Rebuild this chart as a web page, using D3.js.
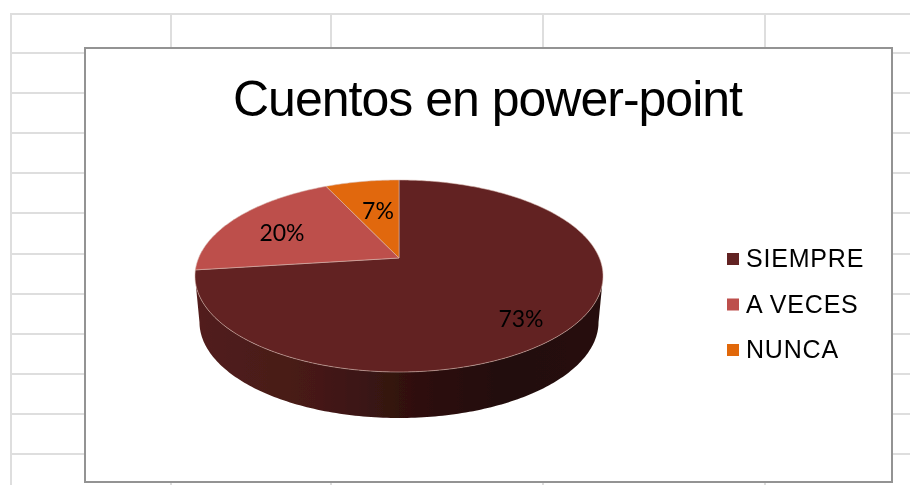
<!DOCTYPE html>
<html>
<head>
<meta charset="utf-8">
<script src="https://cdn.jsdelivr.net/npm/d3@7"></script>
<style>
html, body { margin: 0; padding: 0; background: #fff; overflow: hidden; }
svg { display: block; }
</style>
</head>
<body>
<svg width="910" height="485"></svg>
<script>
var categories = ["SIEMPRE", "A VECES", "NUNCA"];
var values = [73, 20, 7];
var labels = ["73%", "20%", "7%"];
var colors = ["#622323", "#bd4f4c", "#e1680a"];
var sheetRows = [14, 53, 93, 133, 173, 213, 254, 294, 334, 374, 414, 454];
var sheetCols = [11, 171, 331, 543, 765];

var svg = d3.select("svg");
var color = d3.scaleOrdinal().domain(categories).range(colors);

var defs = svg.append("defs");
defs.append("filter").attr("id", "soft")
    .append("feGaussianBlur").attr("stdDeviation", 0.6);
defs.append("filter").attr("id", "softText")
    .append("feGaussianBlur").attr("stdDeviation", 0.4);
var grad = defs.append("linearGradient").attr("id", "side");
[["0%", "#521f1c"], ["30%", "#451917"], ["55%", "#2e100e"], ["75%", "#230c0a"], ["100%", "#260f0c"]]
    .forEach(function(s) {
        grad.append("stop").attr("offset", s[0]).attr("stop-color", s[1]);
    });

// spreadsheet behind the chart
var sheet = svg.append("g").attr("stroke", "#dedede").attr("stroke-width", 2);
sheet.selectAll("line.r").data(sheetRows).enter().append("line").attr("class", "r")
    .attr("x1", 10).attr("x2", 910)
    .attr("y1", function(d) { return d; }).attr("y2", function(d) { return d; });
sheet.selectAll("line.c").data(sheetCols).enter().append("line").attr("class", "c")
    .attr("y1", 14).attr("y2", 485)
    .attr("x1", function(d) { return d; }).attr("x2", function(d) { return d; });

// chart box
svg.append("rect")
    .attr("x", 85).attr("y", 48).attr("width", 807).attr("height", 434)
    .attr("fill", "#fff").attr("stroke", "#939393").attr("stroke-width", 2);

svg.append("text")
    .attr("x", 488).attr("y", 116)
    .attr("text-anchor", "middle")
    .attr("font-family", "Liberation Sans")
    .attr("font-size", 50)
    .attr("fill", "#000")
    .attr("textLength", 510)
    .attr("filter", "url(#softText)")
    .text("Cuentos en power-point");

// perspective tilt: circle (angle a, clockwise from top) onto the page
var cx = 399, cy = 258, R = 200.4, tilt = 0.1875, squash = -44.25;
function project(a, shrink, drop) {
    var u = Math.sin(a), v = Math.cos(a), w = 1 + tilt * v;
    return [cx + shrink * R * u / w, cy + drop + (squash * v) / w + (258 / w - 258)];
}

var pie = d3.pie().sort(null).value(function(d) { return d; });
var arcs = pie(values);
var line = d3.line();

function rim(a0, a1, shrink, drop) {
    var n = Math.max(2, Math.ceil((a1 - a0) * 60));
    return d3.range(n + 1).map(function(i) {
        return project(a0 + (a1 - a0) * i / n, shrink, drop);
    });
}

var chart = svg.append("g").attr("filter", "url(#soft)");

// side wall, only the front half shows
var frontA = Math.PI / 2 + 0.19, frontB = 3 * Math.PI / 2 - 0.19;
var wall = rim(frontA, frontB, 1, 0).concat(rim(frontA, frontB, 0.978, 46).reverse());
chart.append("path")
    .attr("d", line(wall) + "Z")
    .attr("fill", "url(#side)");

chart.selectAll("path.slice").data(arcs).enter().append("path")
    .attr("class", "slice")
    .attr("d", function(d) {
        return line([[cx, cy]].concat(rim(d.startAngle, d.endAngle, 1, 0))) + "Z";
    })
    .attr("fill", function(d, i) { return color(categories[i]); })
    .attr("stroke", "#d9b9b0")
    .attr("stroke-width", 0.8)
    .attr("stroke-opacity", 0.7);

// data labels
var labelSpot = [[521, 327], [282, 241], [378, 219]];
svg.selectAll("text.pct").data(labels).enter().append("text")
    .attr("class", "pct")
    .attr("x", function(d, i) { return labelSpot[i][0]; })
    .attr("y", function(d, i) { return labelSpot[i][1]; })
    .attr("text-anchor", "middle")
    .attr("font-family", "Lato")
    .attr("font-size", 23)
    .attr("fill", "#000")
    .attr("filter", "url(#softText)")
    .text(function(d) { return d; });

// legend
var legendY = d3.scalePoint().domain(categories).range([259, 350]);
var legend = svg.selectAll("g.item").data(categories).enter().append("g")
    .attr("class", "item")
    .attr("transform", function(d) { return "translate(727," + legendY(d) + ")"; });
legend.append("rect")
    .attr("x", 0).attr("y", -6).attr("width", 12).attr("height", 12)
    .attr("fill", function(d) { return color(d); });
legend.append("text")
    .attr("x", 19).attr("y", 8)
    .attr("font-family", "Liberation Sans")
    .attr("font-size", 25)
    .attr("letter-spacing", 0.8)
    .attr("fill", "#000")
    .attr("filter", "url(#softText)")
    .text(function(d) { return d; });
</script>
</body>
</html>
